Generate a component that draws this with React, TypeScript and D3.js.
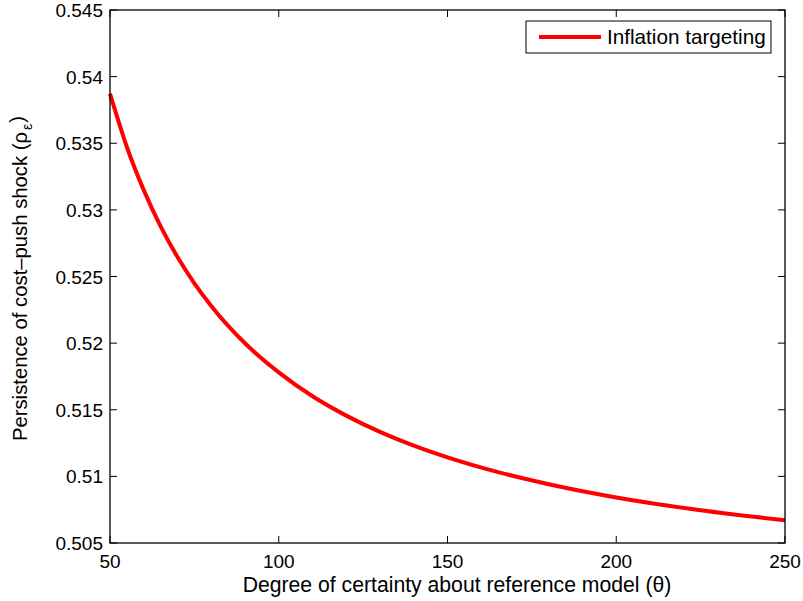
import * as d3 from "d3";

// values
const theta = [50, 55, 60, 65, 70, 75, 80, 90, 100, 110, 120, 130, 140, 150, 165, 180, 200, 225, 250];
const persistence = [
  0.53872, 0.53472, 0.53148, 0.52876, 0.52646, 0.52449, 0.52279, 0.51999, 0.5178, 0.51601,
  0.51456, 0.51334, 0.51231, 0.51143, 0.51032, 0.50941, 0.50842, 0.50746, 0.50671,
];
const xTicks = [50, 100, 150, 200, 250];
const yTicks = [0.505, 0.51, 0.515, 0.52, 0.525, 0.53, 0.535, 0.54, 0.545];
const seriesName = "Inflation targeting";

const W = 803;
const H = 601;
const left = 110;
const right = 785;
const top = 10;
const bottom = 543;
const font = "'Liberation Sans', Arial, Helvetica, sans-serif";

export default function App() {
  const x = d3.scaleLinear().domain([50, 250]).range([left, right]);
  const y = d3.scaleLinear().domain([0.505, 0.545]).range([bottom, top]);

  const pts = theta.map((t, i) => [t, persistence[i]] as [number, number]);
  const line = d3
    .line<[number, number]>()
    .x((d) => x(d[0]))
    .y((d) => y(d[1]))
    .curve(d3.curveMonotoneX);

  const tickLen = 7;

  return (
    <svg
      width={W}
      height={H}
      style={{ position: "absolute", left: 0, top: 0, background: "#fff" }}
      fontFamily={font}
    >
      <rect x={0} y={0} width={W} height={H} fill="#fff" />
      <path d={line(pts) ?? ""} fill="none" stroke="#ff0000" strokeWidth={4} />

      {xTicks.map((t) => (
        <g key={"x" + t}>
          <line x1={x(t)} x2={x(t)} y1={bottom} y2={bottom - tickLen} stroke="#000" strokeWidth={1} />
          <line x1={x(t)} x2={x(t)} y1={top} y2={top + tickLen} stroke="#000" strokeWidth={1} />
          <text x={x(t)} y={bottom + 25} textAnchor="middle" fontSize={19} fill="#000">
            {t}
          </text>
        </g>
      ))}
      {yTicks.map((t) => (
        <g key={"y" + t}>
          <line x1={left} x2={left + tickLen} y1={y(t)} y2={y(t)} stroke="#000" strokeWidth={1} />
          <line x1={right} x2={right - tickLen} y1={y(t)} y2={y(t)} stroke="#000" strokeWidth={1} />
          <text x={left - 7} y={y(t) + 7} textAnchor="end" fontSize={19} fill="#000">
            {d3.format("")(t)}
          </text>
        </g>
      ))}

      <rect
        x={left}
        y={top}
        width={right - left}
        height={bottom - top}
        fill="none"
        stroke="#000"
        strokeWidth={1.3}
      />

      <text x={457} y={592} textAnchor="middle" fontSize={21.2} fill="#000">
        Degree of certainty about reference model (θ)
      </text>
      <text
        transform={`translate(27,${(top + bottom) / 2 + 2}) rotate(-90)`}
        textAnchor="middle"
        fontSize={20.3}
        fill="#000"
      >
        Persistence of cost–push shock (ρ
        <tspan fontSize={14} dy={5} dx={2}>ε</tspan>
        <tspan dy={-8} dx={1}>)</tspan>
      </text>

      <g>
        <rect x={526} y={21} width={245} height={32} fill="#fff" stroke="#000" strokeWidth={1} />
        <line x1={539} x2={601} y1={37} y2={37} stroke="#ff0000" strokeWidth={4} />
        <text x={607} y={44} fontSize={20.7} fill="#000">
          {seriesName}
        </text>
      </g>
    </svg>
  );
}
